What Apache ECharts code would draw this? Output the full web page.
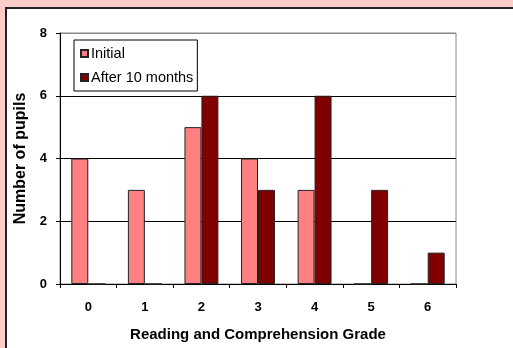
<!DOCTYPE html>
<html>
<head>
<meta charset="utf-8">
<script src="https://cdn.jsdelivr.net/npm/echarts@6/dist/echarts.min.js"></script>
<style>
html,body{margin:0;padding:0;background:#FFCCCC;}
#c{width:513px;height:348px;}
</style>
</head>
<body>
<div id="c"></div>
<script>
var categories = ['0','1','2','3','4','5','6'];
var initialValues = [4, 3, 5, 4, 3, 0, 0];
var afterValues = [0, 0, 6, 3, 6, 3, 1];
var seriesNames = ['Initial', 'After 10 months'];
var yTicks = {min: 0, max: 8, interval: 2};

var FONT = '"Liberation Sans", Arial, sans-serif';
var chart = echarts.init(document.getElementById('c'), null, {renderer: 'canvas'});
chart.setOption({
  animation: false,
  backgroundColor: '#FFCCCC',
  textStyle: {fontFamily: FONT},
  graphic: [{
    type: 'rect', z: -10, silent: true,
    shape: {x: 6, y: 8, width: 530, height: 360},
    style: {fill: '#ffffff', stroke: '#222222', lineWidth: 2}
  }],
  grid: {left: 60, top: 33, right: 57, bottom: 64, show: true, borderColor: '#888888', borderWidth: 1, backgroundColor: 'transparent'},
  legend: {
    orient: 'vertical', left: 74, top: 40,
    data: seriesNames,
    itemWidth: 7, itemHeight: 7, itemGap: 9,
    icon: 'rect',
    borderColor: '#000', borderWidth: 1, padding: [6, 4, 6, 6],
    textStyle: {fontFamily: FONT, fontSize: 14.5, color: '#000', padding: [0, 0, 0, -2]}
  },
  xAxis: {
    type: 'category', data: categories,
    name: 'Reading and Comprehension Grade', nameLocation: 'middle', nameGap: 43,
    nameTextStyle: {fontFamily: FONT, fontSize: 15, fontWeight: 'bold', color: '#000'},
    axisLine: {lineStyle: {color: '#000', width: 1}},
    axisTick: {show: true, alignWithLabel: false, length: 4, lineStyle: {color: '#000'}},
    axisLabel: {fontFamily: FONT, fontSize: 13, fontWeight: 'bold', color: '#000', margin: 17}
  },
  yAxis: {
    type: 'value', min: yTicks.min, max: yTicks.max, interval: yTicks.interval,
    name: 'Number of pupils', nameLocation: 'middle', nameGap: 30,
    nameTextStyle: {fontFamily: FONT, fontSize: 16, fontWeight: 'bold', color: '#000'},
    axisLine: {show: true, lineStyle: {color: '#000', width: 1}},
    axisTick: {show: true, length: 4, lineStyle: {color: '#000'}},
    axisLabel: {fontFamily: FONT, fontSize: 13, fontWeight: 'bold', color: '#000', margin: 13},
    splitLine: {show: true, lineStyle: {color: ['#000', '#000', '#000', '#000', '#888'], width: 1}}
  },
  series: [{
    name: seriesNames[0], type: 'bar', data: initialValues,
    barGap: '0%', barCategoryGap: '40%',
    itemStyle: {color: '#FF8080', borderColor: '#222', borderWidth: 1}
  }, {
    name: seriesNames[1], type: 'bar', data: afterValues,
    barGap: '0%', barCategoryGap: '40%',
    itemStyle: {color: '#800000', borderColor: '#222', borderWidth: 1}
  }]
});
</script>
</body>
</html>
